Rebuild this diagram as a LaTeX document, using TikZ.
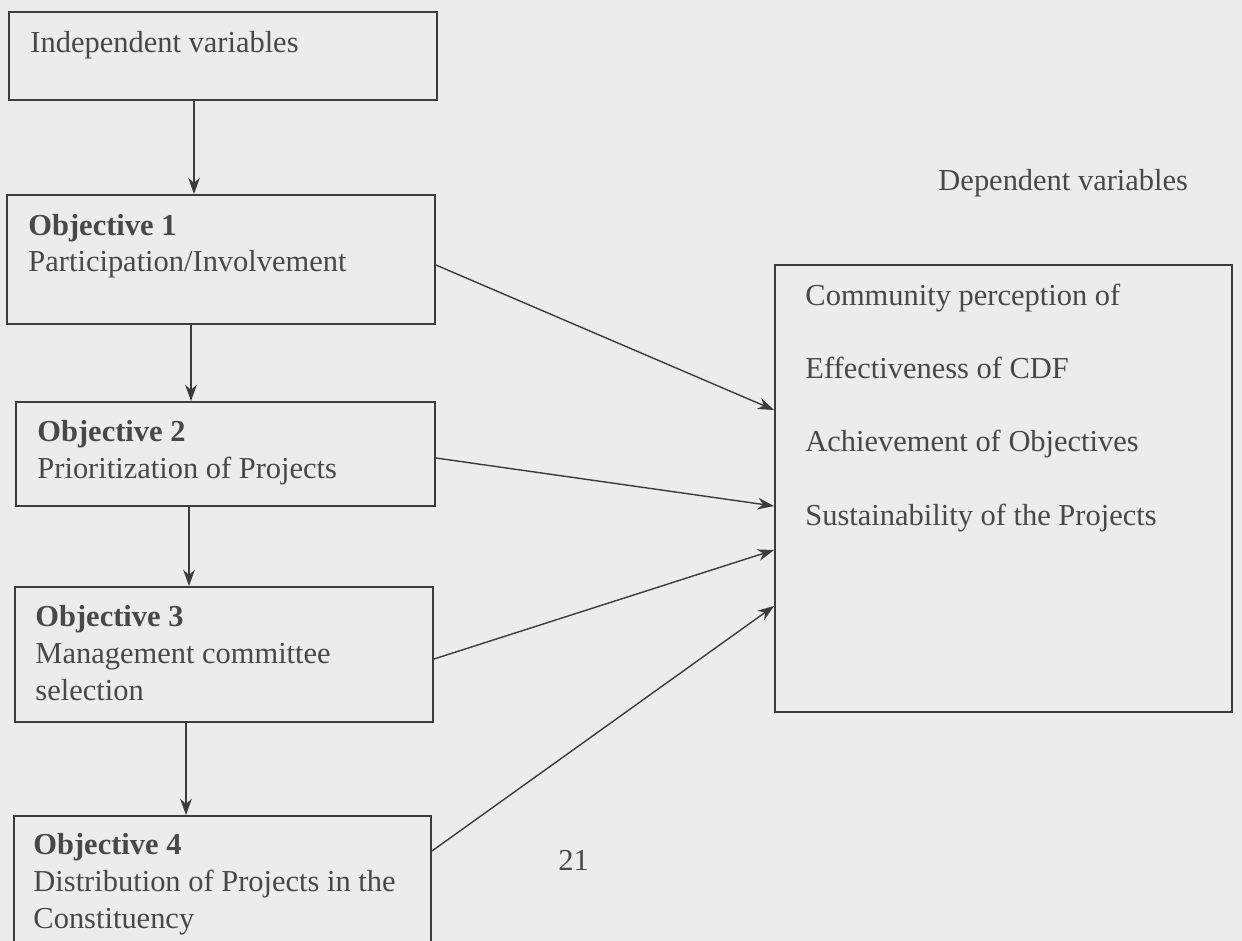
\documentclass[tikz,border=0pt]{standalone}
\usepackage{fontspec}
\setmainfont{Liberation Serif}
\usetikzlibrary{arrows.meta}
\definecolor{paper}{RGB}{236,236,236}
\definecolor{ink}{RGB}{72,72,72}
\definecolor{rule}{RGB}{60,60,60}
\begin{document}
\begin{tikzpicture}[x=0.015cm, y=-0.015cm,
  box/.style={draw=rule, thick, inner sep=0pt},
  txt/.style={text=ink, anchor=base west, inner sep=0pt, align=left, font=\fontsize{13}{15.7}\selectfont},
  arr/.style={draw=rule, semithick, -{Stealth[length=7pt, width=5pt]}}]
\useasboundingbox (0,0) rectangle (1242,941);
\clip (0,0) rectangle (1242,941);
\fill[paper] (0,0) rectangle (1242,941);

% left column
\node[box, minimum width=6.42cm, minimum height=1.32cm] (ind) at (223,56) {};
\node[box, minimum width=6.42cm, minimum height=1.935cm] (obj1) at (221,259.5) {};
\node[box, minimum width=6.285cm, minimum height=1.56cm] (obj2) at (225.5,454) {};
\node[box, minimum width=6.27cm, minimum height=2.025cm] (obj3) at (224,654.5) {};
\node[box, minimum width=6.255cm, minimum height=2.4cm] (obj4) at (222.5,896) {};

% text placed by its last baseline
\node[txt] (indtxt) at (30,53) {Independent variables};
\node[txt] (obj1txt) at (28,272) {\textbf{Objective 1}\\Participation/Involvement};
\node[txt] (obj2txt) at (37,478) {\textbf{Objective 2}\\Prioritization of Projects};
\node[txt] (obj3txt) at (35,700) {\textbf{Objective 3}\\Management committee\\selection};
\node[txt] (obj4txt) at (33,928) {\textbf{Objective 4}\\Distribution of Projects in the\\Constituency};

% right column
\node[txt] (deptitle) at (938,191) {Dependent variables};
\node[box, minimum width=6.855cm, minimum height=6.705cm] (dep) at (1003.5,488.5) {};
\node[txt, font=\fontsize{13}{31.2}\selectfont] (deptxt) at (805,525)
  {Community perception of\\Effectiveness of CDF\\Achievement of Objectives\\Sustainability of the Projects};

\node[txt] (page) at (558,870) {21};

% arrows down
\draw[arr] (ind.south -| 194,0) -- (obj1.north -| 194,0);
\draw[arr] (obj1.south -| 191,0) -- (obj2.north -| 191,0);
\draw[arr] (obj2.south -| 189,0) -- (obj3.north -| 189,0);
\draw[arr] (obj3.south -| 186,0) -- (obj4.north -| 186,0);

% arrows across
\draw[arr] (obj1.east |- 0,265) -- (dep.west |- 0,410);
\draw[arr] (obj2.east |- 0,458) -- (dep.west |- 0,506);
\draw[arr] (obj3.east |- 0,659) -- (dep.west |- 0,550);
\draw[arr] (obj4.east |- 0,851) -- (dep.west |- 0,606);
\end{tikzpicture}
\end{document}
